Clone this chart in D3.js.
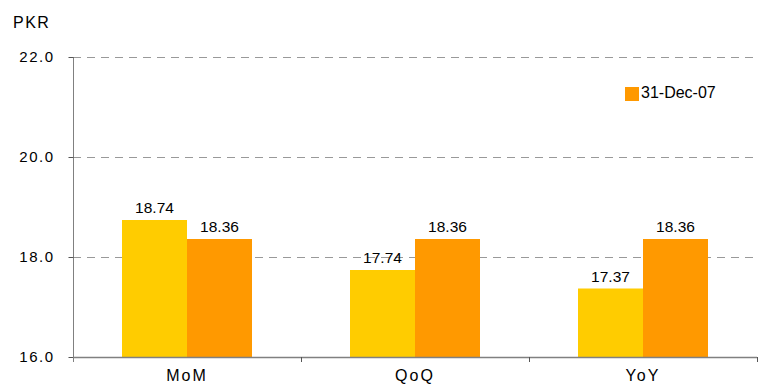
<!DOCTYPE html>
<html>
<head>
<meta charset="utf-8">
<script src="https://cdn.jsdelivr.net/npm/d3@7"></script>
<style>
  body { margin: 0; background: #fff; }
  text { font-family: "Liberation Sans", Arial, sans-serif; fill: #000; }
</style>
</head>
<body>
<svg id="chart" width="763" height="385"></svg>
<script>
// chart data
const categories = ["MoM", "QoQ", "YoY"];
const previousValues = [18.74, 17.74, 17.37];
const currentValues = [18.36, 18.36, 18.36];
const seriesNames = ["Previous", "31-Dec-07"];
const yTicks = [16, 18, 20, 22];

const colors = ["#FFCC00", "#FF9900"];
const margin = { left: 73, right: 6, top: 57, bottom: 28 };
const W = 763, H = 385;

const svg = d3.select("#chart");

const x = d3.scaleBand().domain(categories)
    .range([margin.left, W - margin.right]).paddingInner(0).paddingOuter(0);
const x1 = d3.scaleBand().domain([0, 1])
    .range([0, x.bandwidth()]).paddingInner(0).paddingOuter(0.754);
const y = d3.scaleLinear().domain([16, 22]).range([H - margin.bottom, margin.top]);

// dashed gridlines
svg.append("g").selectAll("line").data(yTicks.slice(1)).join("line")
    .attr("x1", margin.left).attr("x2", W - margin.right)
    .attr("y1", d => y(d) + 0.5).attr("y2", d => y(d) + 0.5)
    .attr("stroke", "#999").attr("stroke-dasharray", "8,6");

// bars
const rows = categories.map((c, i) => ({ c, vals: [previousValues[i], currentValues[i]] }));
const grp = svg.append("g").selectAll("g").data(rows).join("g")
    .attr("transform", d => `translate(${x(d.c)},0)`);
grp.selectAll("rect").data(d => d.vals).join("rect")
    .attr("x", (d, i) => x1(i)).attr("width", x1.bandwidth())
    .attr("y", d => y(d)).attr("height", d => y(16) - y(d))
    .attr("fill", (d, i) => colors[i]);
grp.selectAll("text").data(d => d.vals).join("text")
    .attr("x", (d, i) => x1(i) + x1.bandwidth() / 2).attr("y", d => y(d) - 7)
    .attr("text-anchor", "middle").attr("font-size", 15.5).text(d => d.toFixed(2));

// y axis
const yAxis = svg.append("g").attr("transform", `translate(${margin.left + 0.5},0)`)
    .call(d3.axisLeft(y).tickValues(yTicks).tickFormat(d3.format(".1f")).tickSize(5).tickPadding(14));
yAxis.select(".domain").attr("stroke", "#808080").attr("d", `M0,${y(22)}V${y(16) + 5}`);
yAxis.selectAll(".tick line").attr("stroke", "#555");
yAxis.selectAll(".tick text").attr("font-size", 15).attr("letter-spacing", "1.5px")
    .attr("font-family", "Liberation Sans, Arial").attr("fill", "#000");

// x axis
const xAxis = svg.append("g").attr("transform", `translate(0,${y(16) + 0.5})`)
    .call(d3.axisBottom(x).tickSize(0).tickPadding(12));
xAxis.select(".domain").attr("stroke", "#808080").attr("stroke-width", 1.5)
    .attr("d", `M${margin.left},0H${W - margin.right}`);
xAxis.selectAll(".tick text").attr("font-size", 16).attr("letter-spacing", "2px")
    .attr("font-family", "Liberation Sans, Arial").attr("fill", "#000");
// category separators
svg.append("g").selectAll("line")
    .data(categories.map(c => x(c) + x.bandwidth()))
    .join("line")
    .attr("x1", d => d + 0.5).attr("x2", d => d + 0.5)
    .attr("y1", y(16)).attr("y2", y(16) + 5).attr("stroke", "#555");

// unit label
svg.append("text").attr("x", 13).attr("y", 28).attr("font-size", 16)
    .attr("letter-spacing", "1.5px").text("PKR");

// legend
const lg = svg.append("g").attr("transform", "translate(625,87)");
lg.append("rect").attr("width", 14).attr("height", 14).attr("fill", colors[1]);
lg.append("text").attr("x", 16).attr("y", 10.5).attr("font-size", 16).text(seriesNames[1]);
</script>
</body>
</html>
